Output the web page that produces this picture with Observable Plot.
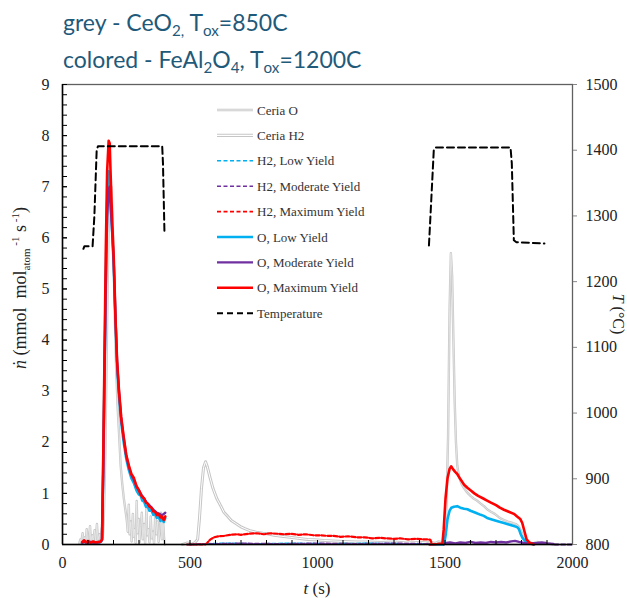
<!DOCTYPE html>
<html><head><meta charset="utf-8">
<script src="https://cdn.jsdelivr.net/npm/d3@7"></script>
<script src="https://cdn.jsdelivr.net/npm/@observablehq/plot@0.6"></script>
<style>
body{margin:0;background:#fff;}
#wrap{position:relative;width:627px;height:598px;overflow:hidden;}
#wrap svg.plot{position:absolute;left:0;top:0;}
.title{position:absolute;left:63px;font-family:Lato,"Open Sans",sans-serif;font-size:23px;line-height:30px;color:#1f5a7a;white-space:nowrap;z-index:2;}
.title sub{font-size:0.66em;line-height:0;vertical-align:-0.3em;}
</style>
</head><body>
<div id="wrap">
<div class="title" style="top:7px">grey - CeO<sub>2,</sub> T<sub>ox</sub>=850C</div>
<div class="title" style="top:44px">colored - FeAl<sub>2</sub>O<sub>4</sub>, T<sub>ox</sub>=1200C</div>
</div>
<script>
// ---- axis ticks ----
const timeTicks = [0, 500, 1000, 1500, 2000];
const timeMinorTicks = d3.range(100, 2000, 100);
const fluxTicks = [0,1,2,3,4,5,6,7,8,9];
const fluxMinorTicks = d3.range(0.2, 9, 0.2);
const tempTicks = [800, 900, 1000, 1100, 1200, 1300, 1400, 1500];
const tempDomain = [800, 1500];

// ---- series: [t (s), value] ----
const ceriaO = [
 [66,0.02],[70,0.1],[73,0.03],[79,0.22],[82,0.06],[88,0.14],[91,0.02],[95,0.3],[99,0.05],[104,0.12],[108,0.36],[111,0.08],[117,0.18],[120,0.04],[126,0.28],[130,0.06],[135,0.4],[139,0.09],[145,0.2],[149,0.05],[154,0.32],[158,0.14],[162,0.5],[168,1.8],[174,4.0],[180,6.0],[186,6.9],[192,7.0],[198,6.1],[204,4.7],[210,3.5],[216,2.7],[222,2.15],[228,1.55],[234,1.2],[240,0.92],[246,0.7],[252,0.48],[256,0.25],[260,0.78],[263,0.2],[268,0.45],[271,0.06],[276,0.6],[279,0.15],[283,0.3],[287,0.03],[291,0.85],[294,0.22],[299,0.5],[303,0.05],[307,0.35],[311,0.62],[315,0.1],[320,0.4],[324,0.02],[329,0.7],[332,0.18],[337,0.3],[341,0.04],[346,0.55],[350,0.12],[355,0.25],[359,0.02],[364,0.6],[368,0.2],[373,0.45],[377,0.05],[382,0.3],[386,0.62],[390,0.1],[394,0.5],[398,0.15],[401,0.0],
 [402,NaN],
 [1430,0.02],[1445,0.05],[1460,0.02],[1475,0.06],[1490,0.04],[1498,0.1],[1505,0.6],[1512,2.1],[1518,4.6],[1523,5.7],[1528,5.25],[1533,4.0],[1538,2.8],[1543,2.0],[1548,1.55],[1555,1.32],[1565,1.18],[1575,1.1],[1585,1.03],[1600,0.95],[1612,0.9],[1625,0.86],[1640,0.8],[1655,0.74],[1665,0.69],[1680,0.64],[1695,0.6],[1710,0.54],[1722,0.5],[1735,0.47],[1750,0.44],[1765,0.42],[1778,0.4],[1788,0.36],[1797,0.28],[1805,0.18],[1815,0.1],[1828,0.05],[1845,0.02],[1862,0.05],[1878,0.02],[1895,0.04],[1915,0.01],[1940,0.0]
];
const ceriaH2 = [
 [470,0.0],[490,0.03],[505,0.0],[520,0.04],[530,0.1],[537,0.5],[545,1.1],[553,1.5],[561,1.62],[568,1.52],[578,1.32],[590,1.1],[605,0.9],[620,0.76],[633,0.63],[648,0.55],[662,0.47],[680,0.41],[698,0.35],[715,0.31],[735,0.27],[760,0.24],[785,0.22],[803,0.21],[830,0.18],[860,0.16],[894,0.14],[925,0.12],[960,0.1],[1000,0.09],[1025,0.08],[1060,0.07],[1100,0.06],[1155,0.05],[1200,0.05],[1250,0.04],[1300,0.05],[1350,0.03],[1400,0.04],[1450,0.03],[1480,0.02]
];
const h2Low = [
 [490,0.0],[560,0.01],[640,0.02],[760,0.01],[900,0.02],[1050,0.01],[1200,0.02],[1350,0.01],[1450,0.01]
];
const h2Moderate = [
 [500,0.0],[540,0.01],[600,0.01],[700,0.02],[850,0.01],[1000,0.02],[1150,0.01],[1300,0.02],[1440,0.01],
 [1441,NaN],[1930,0.0],[2000,0.0]
];
const h2Maximum = [
 [488,0.0],[530,0.0],[560,0.0],[567,0.03],[580,0.1],[594,0.14],[610,0.16],[633,0.17],[660,0.19],[685,0.2],[700,0.19],[730,0.21],[763,0.22],[790,0.2],[815,0.22],[845,0.21],[870,0.2],[894,0.21],[925,0.19],[955,0.2],[985,0.18],[1010,0.18],[1035,0.17],[1060,0.17],[1090,0.15],[1120,0.16],[1155,0.14],[1185,0.14],[1215,0.12],[1245,0.13],[1270,0.12],[1300,0.11],[1325,0.12],[1355,0.1],[1385,0.11],[1417,0.1],[1435,0.1],[1443,0.09],[1448,0.02],[1455,0.0],[1497,0.0]
];
const oLow = [
 [77,0.04],[86,0.07],[94,0.03],[102,0.06],[112,0.03],[122,0.05],[132,0.03],[142,0.05],[150,0.05],[155,0.1],[160,1.6],[165,3.5],[170,5.3],[175,6.7],[181,7.3],[185,7.15],[189,6.7],[195,6.1],[201,5.45],[208,4.35],[214,3.5],[221,2.95],[230,2.4],[240,2.0],[250,1.68],[260,1.46],[270,1.3],[280,1.2],[290,1.06],[299,0.98],[306,0.96],[313,0.86],[320,0.84],[327,0.74],[334,0.75],[341,0.66],[348,0.68],[356,0.58],[363,0.6],[370,0.52],[377,0.54],[384,0.46],[391,0.5],[397,0.44],[403,0.52],
 [404,NaN],
 [1440,0.0],[1490,0.0],[1497,0.02],[1503,0.2],[1510,0.5],[1518,0.66],[1525,0.72],[1535,0.74],[1548,0.75],[1560,0.72],[1575,0.7],[1588,0.69],[1600,0.66],[1620,0.62],[1640,0.58],[1652,0.56],[1665,0.52],[1690,0.48],[1710,0.45],[1731,0.42],[1750,0.39],[1770,0.36],[1783,0.34],[1790,0.3],[1797,0.2],[1805,0.12],[1816,0.06],[1830,0.02],[1850,0.0]
];
const oModerate = [
 [78,0.03],[88,0.05],[98,0.03],[110,0.05],[122,0.03],[134,0.04],[146,0.04],[155,0.08],[160,1.5],[165,3.4],[170,5.1],[175,6.4],[181,6.95],[185,7.0],[189,6.6],[195,6.1],[201,5.5],[208,4.4],[214,3.58],[221,3.02],[230,2.47],[240,2.08],[250,1.74],[260,1.52],[270,1.36],[280,1.27],[290,1.14],[300,1.06],[310,0.97],[320,0.9],[330,0.82],[340,0.77],[350,0.72],[360,0.66],[370,0.62],[380,0.6],[390,0.57],[398,0.6],[403,0.62],
 [404,NaN],
 [1495,0.0],[1505,0.03],[1520,0.04],[1540,0.02],[1560,0.04],[1580,0.03],[1600,0.05],[1620,0.03],[1640,0.04],[1660,0.03],[1680,0.05],[1700,0.04],[1720,0.05],[1740,0.04],[1760,0.06],[1775,0.07],[1790,0.05],[1810,0.03],[1830,0.02],[1860,0.03],[1880,0.04],[1900,0.02],[1925,0.01]
];
const oMaximum = [
 [77,0.05],[85,0.08],[92,0.04],[100,0.07],[110,0.03],[120,0.06],[130,0.04],[140,0.05],[150,0.06],[155,0.1],[160,1.8],[165,3.8],[170,5.8],[175,7.3],[181,7.9],[185,7.85],[189,7.2],[195,6.3],[201,5.6],[208,4.4],[214,3.6],[221,3.05],[230,2.5],[240,2.1],[250,1.75],[260,1.55],[270,1.38],[280,1.3],[290,1.14],[300,1.06],[306,0.98],[313,0.93],[320,0.9],[327,0.82],[334,0.8],[341,0.74],[348,0.72],[356,0.65],[363,0.64],[370,0.58],[377,0.6],[384,0.53],[391,0.54],[397,0.48],[403,0.55],
 [404,NaN],
 [1440,0.0],[1470,0.01],[1490,0.02],[1495,0.3],[1502,0.9],[1510,1.3],[1518,1.48],[1524,1.53],[1532,1.47],[1540,1.42],[1548,1.38],[1560,1.28],[1575,1.17],[1590,1.1],[1600,1.06],[1615,1.0],[1630,0.95],[1650,0.9],[1665,0.86],[1680,0.82],[1700,0.77],[1715,0.72],[1731,0.68],[1750,0.64],[1770,0.6],[1785,0.54],[1795,0.5],[1803,0.42],[1812,0.25],[1820,0.1],[1830,0.04],[1848,0.0]
];
const temperature = [
 [82,1250],[86,1254],[118,1254],[125,1300],[134,1400],[139,1406],[391,1406],[394,1380],[400,1272],
 [401,NaN],
 [1437,1255],[1443,1300],[1456,1400],[1463,1404],[1757,1404],[1762,1380],[1770,1263],[1780,1260],[1890,1258]
];

const legendItems = [
 {label:"Ceria O", kind:"ceriaO"},
 {label:"Ceria H2", kind:"ceriaH2"},
 {label:"H2, Low Yield", color:"#00b0f0", dash:"4,2.5", w:1.6},
 {label:"H2, Moderate Yield", color:"#7030a0", dash:"4,2.5", w:1.6},
 {label:"H2, Maximum Yield", color:"#ff0000", dash:"4,2.5", w:1.6},
 {label:"O, Low Yield", color:"#00b0f0", w:2.4},
 {label:"O, Moderate Yield", color:"#7030a0", w:2.4},
 {label:"O, Maximum Yield", color:"#ff0000", w:2.4},
 {label:"Temperature", color:"#000", dash:"6,4", w:2}
];

// ---- layout ----
const W = 627, H = 598, mL = 62, mR = 55, mT = 84, mB = 54;
const plotW = W - mL - mR, plotH = H - mT - mB;
const fluxMax = 9;
const serif = "'Liberation Serif','Times New Roman',serif";
const tempToFlux = T => (T - tempDomain[0]) / (tempDomain[1] - tempDomain[0]) * fluxMax;
const fluxToTemp = f => String(Math.round(tempDomain[0] + f / fluxMax * (tempDomain[1] - tempDomain[0])));

const X = d => d[0], Y = d => d[1];
const lineOpts = (stroke, w, dash) => ({x: X, y: Y, stroke, strokeWidth: w, strokeDasharray: dash, strokeLinejoin: "round"});
const axText = {fontSize: 16, fill: "#222", label: null};

const chart = Plot.plot({
  width: W, height: H,
  marginLeft: mL, marginRight: mR, marginTop: mT, marginBottom: mB,
  style: {fontSize: "16px", color: "#222", background: "transparent"},
  x: {domain: [0, 2000]},
  y: {domain: [0, fluxMax]},
  marks: [
    Plot.line(ceriaH2, lineOpts("#c6c6c6", 3.0)),
    Plot.line(ceriaH2, lineOpts("#ffffff", 1.0)),
    Plot.line(ceriaO, lineOpts("#c8c8c8", 2.4)),
    Plot.line(ceriaO, lineOpts("#eeeeee", 0.7)),
    Plot.line(h2Low, lineOpts("#00b0f0", 2, "4,2.5")),
    Plot.line(h2Moderate, lineOpts("#7030a0", 2, "4,2.5")),
    Plot.line(h2Maximum, lineOpts("#ff0000", 2.2, "4,2")),
    Plot.line(oLow, lineOpts("#00b0f0", 2.6)),
    Plot.line(oModerate, lineOpts("#7030a0", 2.4)),
    Plot.line(oMaximum, lineOpts("#ff0000", 2.6)),
    Plot.line(temperature, {x: X, y: d => tempToFlux(d[1]), stroke: "#000", strokeWidth: 2, strokeDasharray: "7,4"}),
    Plot.frame({stroke: "#606060", strokeWidth: 1.3}),
    Plot.ruleX([0], {stroke: "#000", strokeWidth: 1.5}),
    Plot.ruleY([0], {stroke: "#000", strokeWidth: 1.5}),
    Plot.tickY(fluxMinorTicks, {y: d => d, insetRight: plotW - 5, stroke: "#000", strokeWidth: 1}),
    Plot.tickY(fluxTicks, {y: d => d, insetRight: plotW - 5, stroke: "#000", strokeWidth: 1}),
    Plot.tickX(timeMinorTicks, {x: d => d, insetTop: plotH - 4, stroke: "#000", strokeWidth: 1}),
    Plot.axisX(timeTicks, {...axText, tickSize: 0, tickPadding: 12, tickFormat: d => String(d)}),
    Plot.axisY(fluxTicks, {...axText, anchor: "left", tickSize: 0, tickPadding: 13, tickFormat: d => String(d)}),
    Plot.axisY(tempTicks.map(tempToFlux), {...axText, anchor: "right", tickSize: 4, tickPadding: 9, stroke: "#888", tickFormat: fluxToTemp})
  ]
});
chart.setAttribute("class", (chart.getAttribute("class") || "") + " plot");
document.getElementById("wrap").appendChild(chart);

const svg = d3.select(chart);

const xl = svg.append("text").attr("x", 317).attr("y", 594).attr("text-anchor", "middle")
  .attr("font-size", 17).attr("fill", "#222");
xl.append("tspan").attr("font-style", "italic").text("t");
xl.append("tspan").text(" (s)");

const yl = svg.append("text").attr("transform", "translate(26,288) rotate(-90)").attr("text-anchor", "middle")
  .attr("font-size", 18).attr("fill", "#222");
yl.append("tspan").attr("font-style", "italic").text("ṅ");
yl.append("tspan").text(" (mmol  mol");
yl.append("tspan").attr("font-size", 11).attr("dy", 4).text("atom");
yl.append("tspan").attr("font-size", 11).attr("dy", -11).text(" -1");
yl.append("tspan").attr("dy", 7).text(" s");
yl.append("tspan").attr("font-size", 11).attr("dy", -7).text(" -1");
yl.append("tspan").attr("dy", 7).text(")");

const rl = svg.append("text").attr("transform", "translate(613,314) rotate(90)").attr("text-anchor", "middle")
  .attr("font-size", 16).attr("fill", "#222");
rl.append("tspan").attr("font-style", "italic").text("T");
rl.append("tspan").text(" (°C)");

const lg = svg.append("g").attr("font-size", 13).attr("fill", "#333").attr("text-anchor", "start");
legendItems.forEach((it, i) => {
  const y = 110 + i * 25.4;
  if (it.kind === "ceriaO") {
    lg.append("line").attr("x1", 217).attr("x2", 253).attr("y1", y).attr("y2", y).attr("stroke", "#c6c6c6").attr("stroke-width", 2.4);
    lg.append("line").attr("x1", 217).attr("x2", 253).attr("y1", y).attr("y2", y).attr("stroke", "#f4f4f4").attr("stroke-width", 0.8);
  } else if (it.kind === "ceriaH2") {
    lg.append("line").attr("x1", 217).attr("x2", 253).attr("y1", y).attr("y2", y).attr("stroke", "#c6c6c6").attr("stroke-width", 3.2);
    lg.append("line").attr("x1", 217).attr("x2", 253).attr("y1", y).attr("y2", y).attr("stroke", "#fff").attr("stroke-width", 1.1);
  } else {
    lg.append("line").attr("x1", 217).attr("x2", 253).attr("y1", y).attr("y2", y)
      .attr("stroke", it.color).attr("stroke-width", it.w).attr("stroke-dasharray", it.dash || null);
  }
  lg.append("text").attr("x", 257).attr("y", y).attr("dy", "0.35em").attr("text-anchor", "start").text(it.label);
});

// force the serif face on every SVG text (tick labels included)
svg.attr("font-family", serif).style("font-family", serif);
svg.selectAll("text").style("font-family", serif);
svg.selectAll("g").filter(function(){ return this.getAttribute("font-family"); }).attr("font-family", serif);
</script>
</body></html>
